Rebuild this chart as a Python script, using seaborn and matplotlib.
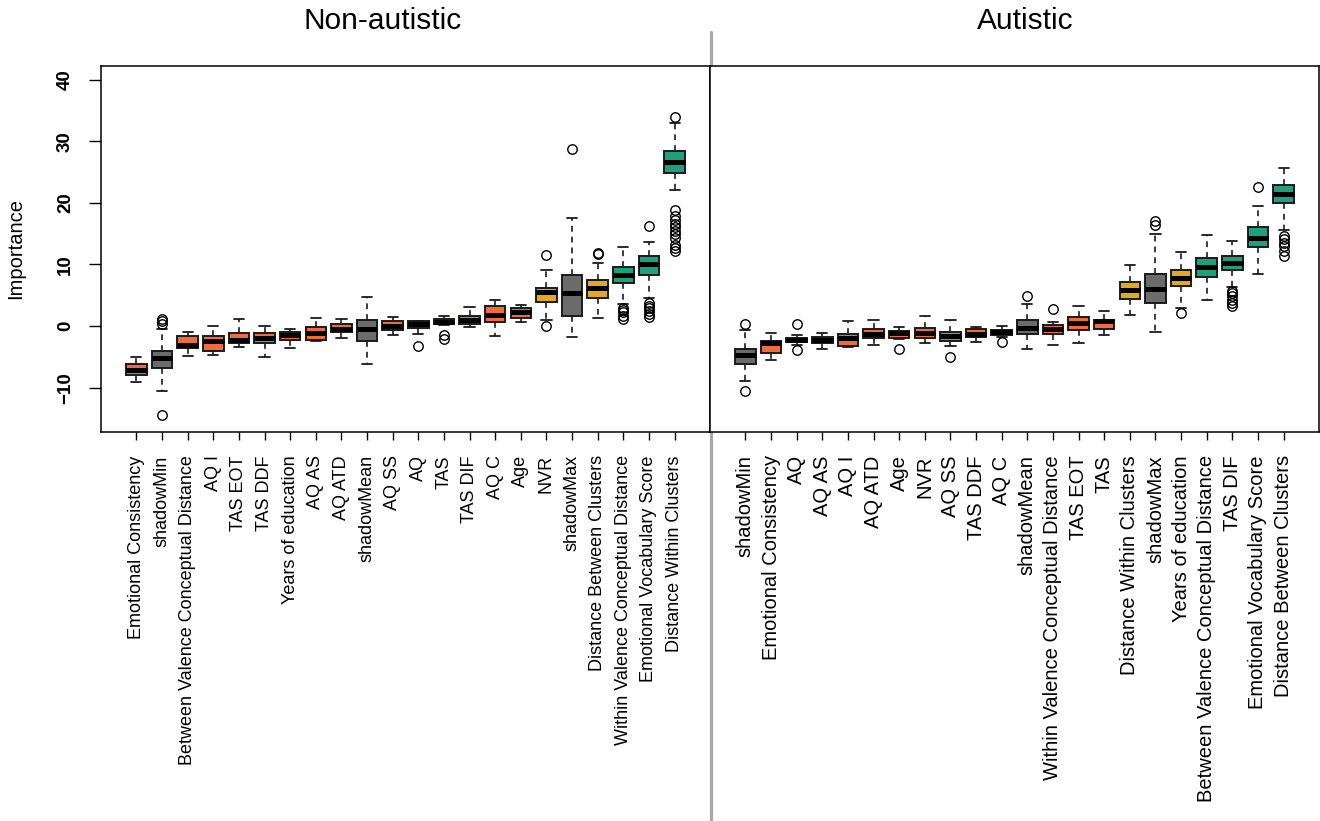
"""Boruta-style importance boxplots for non-autistic and autistic groups -> out.png"""

import numpy as np
import pandas as pd
import matplotlib
matplotlib.use("Agg")
import matplotlib.pyplot as plt
from matplotlib.lines import Line2D
import seaborn as sns

# colour per decision kind: r = rejected, t = tentative, c = confirmed, s = shadow
KIND_COLORS = {"r": "#F26A3E", "t": "#E3A922", "c": "#20A07A", "s": "#6B6B6B"}

# ---- Non-autistic --------------------------------------------------------
NA_LABELS = ["Emotional Consistency", "shadowMin", "Between Valence Conceptual Distance",
             "AQ I", "TAS EOT", "TAS DDF", "Years of education", "AQ AS", "AQ ATD",
             "shadowMean", "AQ SS", "AQ", "TAS", "TAS DIF", "AQ C", "Age", "NVR",
             "shadowMax", "Distance Between Clusters", "Within Valence Conceptual Distance",
             "Emotional Vocabulary Score", "Distance Within Clusters"]
NA_KIND = ["r", "s", "r", "r", "r", "r", "r", "r", "r", "s", "r", "r", "r", "r", "r", "r",
           "t", "s", "t", "c", "c", "c"]
NA_LO  = [-9.1, -10.5, -4.9, -4.7, -3.4, -5.1, -3.5, -2.4, -1.9, -6.1, -1.4, -1.35, 0.1,
          -0.1, -1.7, 0.65, 1.0, -1.8, 1.25, 3.5, 4.5, 22.1]
NA_Q1  = [-7.9, -6.8, -3.6, -4.1, -2.7, -2.8, -2.2, -2.2, -0.9, -2.4, -0.7, -0.3, 0.3,
          0.3, 0.7, 1.25, 3.9, 1.6, 4.6, 7.0, 8.3, 24.8]
NA_MED = [-7.1, -5.2, -3.0, -2.5, -2.3, -2.0, -1.5, -1.1, -0.5, -0.5, 0.0, 0.4, 0.7,
          1.0, 1.8, 2.2, 5.5, 5.4, 6.2, 8.3, 10.1, 26.6]
NA_Q3  = [-6.2, -4.1, -1.6, -1.6, -1.1, -1.2, -0.9, -0.1, 0.4, 0.9, 0.8, 0.75, 1.1,
          1.7, 3.25, 2.9, 6.2, 8.3, 7.4, 9.6, 11.3, 28.4]
NA_HI  = [-5.1, -0.5, -0.9, 0.0, 1.2, 0.0, -0.5, 1.25, 1.1, 4.7, 1.5, 0.85, 1.6,
          3.1, 4.3, 3.4, 9.15, 17.5, 10.3, 12.8, 13.6, 32.9]
NA_OUT = [[], [-14.4, 0.4, 0.8, 1.2], [], [], [], [], [], [], [], [], [], [-3.2],
          [-1.4, -2.1], [], [], [], [0.0, 11.6], [28.8], [11.7, 11.9],
          [3.0, 2.6, 2.2, 1.6, 1.2],
          [16.2, 3.7, 3.3, 2.9, 2.4, 1.9, 1.4],
          [34.0, 18.9, 17.9, 17.2, 16.5, 16.0, 15.4, 14.9, 14.3, 13.2, 12.7, 12.2]]

# ---- Autistic ------------------------------------------------------------
AU_LABELS = ["shadowMin", "Emotional Consistency", "AQ", "AQ AS", "AQ I", "AQ ATD", "Age",
             "NVR", "AQ SS", "TAS DDF", "AQ C", "shadowMean",
             "Within Valence Conceptual Distance", "TAS EOT", "TAS",
             "Distance Within Clusters", "shadowMax", "Years of education",
             "Between Valence Conceptual Distance", "TAS DIF",
             "Emotional Vocabulary Score", "Distance Between Clusters"]
AU_KIND = ["s", "r", "r", "r", "r", "r", "r", "r", "r", "r", "r", "s", "r", "r", "r",
           "t", "s", "t", "c", "c", "c", "c"]
AU_LO  = [-9.0, -5.5, -3.0, -3.7, -3.4, -3.1, -2.1, -2.8, -3.3, -2.65, -1.8, -3.8,
          -3.1, -2.7, -1.5, 1.8, -1.0, 3.0, 4.15, 6.3, 8.4, 15.65]
AU_Q1  = [-6.2, -4.3, -2.6, -2.7, -3.25, -1.95, -1.9, -1.95, -2.4, -1.85, -1.4, -1.35,
          -1.3, -0.65, -0.55, 4.45, 3.7, 6.45, 7.9, 9.1, 12.9, 20.0]
AU_MED = [-4.75, -2.75, -2.2, -2.2, -1.95, -1.35, -1.1, -1.1, -1.55, -1.3, -1.0, -0.25,
          -0.5, 0.55, 0.8, 5.9, 6.0, 7.75, 9.6, 10.2, 14.3, 21.5]
AU_Q3  = [-3.7, -2.4, -1.95, -1.8, -1.25, -0.5, -0.75, -0.25, -0.9, -0.5, -0.65, 1.0,
          0.2, 1.5, 1.0, 7.2, 8.4, 9.05, 11.1, 11.3, 16.0, 22.95]
AU_HI  = [-0.7, -1.2, -1.5, -1.1, 0.8, 1.0, -0.1, 1.6, 1.0, -0.15, 0.0, 3.5,
          0.65, 3.2, 2.5, 9.85, 15.0, 11.95, 14.85, 13.75, 19.4, 25.7]
AU_OUT = [[-10.5, 0.4], [], [-3.9, 0.3], [], [], [], [-3.7], [], [-5.1], [], [-2.6],
          [4.9], [2.8], [], [], [], [16.35, 17.05], [2.05], [],
          [5.7, 5.3, 4.8, 4.3, 3.8, 3.3], [22.6],
          [14.6, 14.1, 13.5, 13.0, 12.2, 11.4]]


def long_frame(labels, lo, q1, med, q3, hi, out, n=50):
    """Long table whose box statistics reproduce the read-off summaries."""
    rows = []
    for i, lab in enumerate(labels):
        vals = [lo[i]] + [q1[i]] * n + [med[i]] * n + [q3[i]] * n + [hi[i]] + out[i]
        rows += [(lab, v) for v in vals]
    return pd.DataFrame(rows, columns=["variable", "importance"])


sns.set_style("white")
plt.rcParams["font.family"] = ["Liberation Sans", "DejaVu Sans"]
plt.rcParams.update({"text.color": "black", "axes.labelcolor": "black",
                     "xtick.color": "black", "ytick.color": "black"})

W, H = 1320, 821
fig = plt.figure(figsize=(W / 100, H / 100), dpi=100)

# grey separator between the two groups (behind the axes)
fig.add_artist(Line2D([711.3 / W, 711.3 / W], [1 - 32 / H, 1 - 820 / H],
                      color="#A8A8A8", lw=2.3, zorder=-1))

ax1 = fig.add_axes([101 / W, 1 - 432 / H, 609 / W, 366 / H])
ax2 = fig.add_axes([710 / W, 1 - 432 / H, 609 / W, 366 / H])

# the right-hand panel's category labels are set a little larger
panels = [
    (ax1, 13.0, NA_LABELS, NA_KIND, NA_LO, NA_Q1, NA_MED, NA_Q3, NA_HI, NA_OUT),
    (ax2, 14.5, AU_LABELS, AU_KIND, AU_LO, AU_Q1, AU_MED, AU_Q3, AU_HI, AU_OUT),
]

for ax, lsize, labels, kind, lo, q1, med, q3, hi, out in panels:
    df = long_frame(labels, lo, q1, med, q3, hi, out)
    pal = {lab: KIND_COLORS[k] for lab, k in zip(labels, kind)}
    sns.boxplot(
        data=df, x="variable", y="importance", hue="variable",
        order=labels, hue_order=labels, palette=pal, legend=False,
        saturation=1, width=0.8, whis=1.5,
        linecolor="#1a1a1a", linewidth=1.4, fliersize=6.8, ax=ax,
        medianprops={"color": "black", "linewidth": 3.6, "solid_capstyle": "butt"},
        whiskerprops={"linestyle": (0, (3.5, 3)), "linewidth": 1.2},
        capprops={"linewidth": 1.3},
        flierprops={"marker": "o", "markerfacecolor": "none",
                    "markeredgecolor": "black", "markeredgewidth": 1.0},
    )
    # R boxplot range: 0.5..n+0.5 widened by 4% on each side
    ax.set_xlim(-1.38, 22.38)
    ax.set_ylim(-17.2, 42.2)
    ax.set_xlabel("")
    ax.set_ylabel("")
    for sp in ax.spines.values():
        sp.set_visible(True)
        sp.set_color("black")
        sp.set_linewidth(1.1)
    ax.tick_params(axis="x", direction="out", length=5.8, width=1.0,
                   pad=11, labelsize=lsize, bottom=True)
    plt.setp(ax.get_xticklabels(), rotation=90, ha="center", va="top")

ax1.set_yticks([-10, 0, 10, 20, 30, 40])
ax1.tick_params(axis="y", direction="out", length=8.5, width=1.0, pad=11,
                labelsize=13.5, left=True)
plt.setp(ax1.get_yticklabels(), rotation=90, ha="right", va="center",
         fontweight="bold")
ax2.tick_params(axis="y", left=False, labelleft=False)

fig.text(383 / W, 1 - 21 / H, "Non-autistic", ha="center", va="center", fontsize=21.5)
fig.text(1025 / W, 1 - 21 / H, "Autistic", ha="center", va="center", fontsize=21.5)
fig.text(16 / W, 1 - 248.5 / H, "Importance", ha="center", va="center",
         rotation=90, fontsize=14.5)

fig.savefig("out.png", dpi=100)
plt.close(fig)
